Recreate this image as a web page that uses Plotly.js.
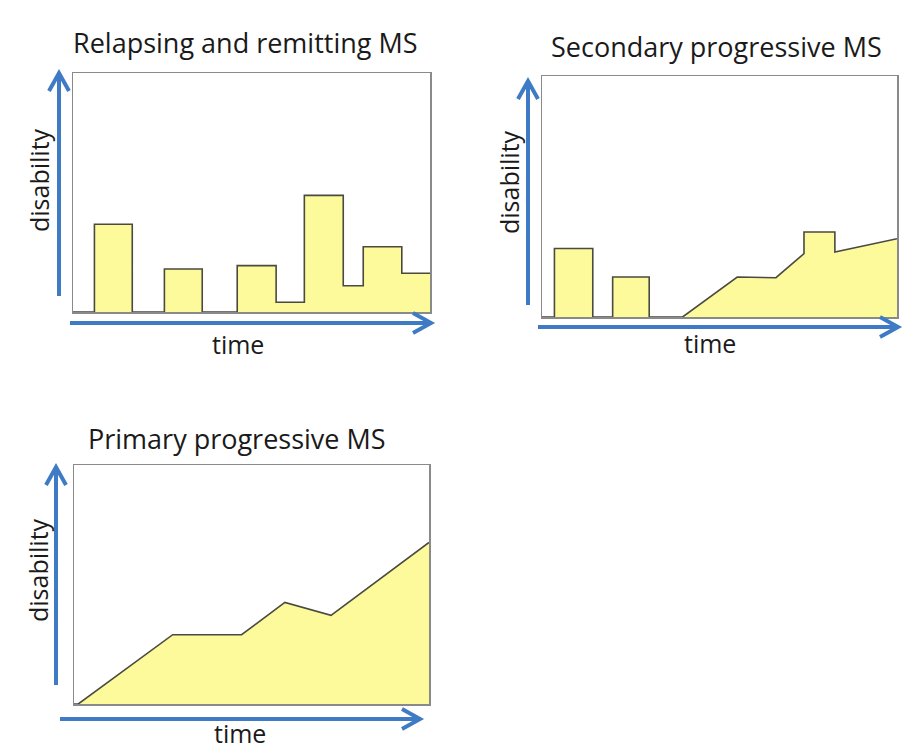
<!DOCTYPE html>
<html>
<head>
<meta charset="utf-8">
<script src="https://cdn.plot.ly/plotly-3.0.1.min.js"></script>
<style>
  html, body { margin: 0; padding: 0; background: #fff; }
  #chart { width: 924px; height: 755px; }
</style>
</head>
<body>
<div id="chart"></div>
<script>
// panel titles
const panelTitles = ["Relapsing and remitting MS", "Secondary progressive MS", "Primary progressive MS"];

// relapsing and remitting: attacks that come and go
const rrTime = [0, 6, 6, 16.6, 16.6, 25.6, 25.6, 36.2, 36.2, 46, 46, 56.9, 56.9, 64.8, 64.8, 75.7, 75.7, 81.3, 81.3, 92.1, 92.1, 100];
const rrDisability = [0, 0, 36.7, 36.7, 0, 0, 18, 18, 0, 0, 19.4, 19.4, 4.1, 4.1, 48.8, 48.8, 11, 11, 27.3, 27.3, 16.2, 16.2];

// secondary progressive: relapses first, then steady worsening
const spTime = [0, 3.5, 3.5, 14.3, 14.3, 19.9, 19.9, 30.2, 30.2, 39.6, 55, 65.9, 73.8, 73.8, 82.5, 82.5, 100];
const spDisability = [0, 0, 28.4, 28.4, 0, 0, 16.6, 16.6, 0, 0, 16.6, 16.3, 26.3, 35.3, 35.3, 27, 32.5];

// primary progressive: worsening from the start
const ppTime = [0, 1.2, 27.8, 47.2, 59.4, 72.4, 100];
const ppDisability = [0, 0, 29, 29, 42.5, 37.1, 67.6];

const W = 924, H = 755;
const px = (v) => v / W;
const py = (v) => 1 - v / H;

const FONT = "Open Sans, Noto Sans, sans-serif";
const BLUE = "#3f7bc4";
const FILL = "rgba(253, 250, 150, 0.95)";
const EDGE = "#4a4a40";

function area(x, y, n) {
  return {
    x: x,
    y: y,
    xaxis: "x" + (n > 1 ? n : ""),
    yaxis: "y" + (n > 1 ? n : ""),
    type: "scatter",
    mode: "lines",
    fill: "tozeroy",
    fillcolor: FILL,
    line: { color: EDGE, width: 1.6 },
    hoverinfo: "skip",
  };
}

function boxAxis(domain, anchor) {
  return {
    domain: domain,
    anchor: anchor,
    range: [0, 100],
    showgrid: false,
    zeroline: false,
    showticklabels: false,
    ticks: "",
    showline: true,
    mirror: true,
    linecolor: "#8a8a8a",
    linewidth: 1.5,
    fixedrange: true,
  };
}

// blue arrow with an open chevron head, in pixel coordinates
function arrow(x0, y0, x1, y1) {
  const len = Math.hypot(x1 - x0, y1 - y0);
  const dx = (x1 - x0) / len, dy = (y1 - y0) / len;
  const back = 18, side = 10;
  const ax = x1 - back * dx, ay = y1 - back * dy;
  const a1 = [ax - side * dy, ay + side * dx];
  const a2 = [ax + side * dy, ay - side * dx];
  const p = (x, y) => px(x) + "," + py(y);
  return {
    type: "path",
    xref: "paper",
    yref: "paper",
    path: "M" + p(x0, y0) + " L" + p(x1, y1) +
          " M" + p(a1[0], a1[1]) + " L" + p(x1, y1) + " L" + p(a2[0], a2[1]),
    line: { color: BLUE, width: 4 },
  };
}

function label(text, x, y, size, angle) {
  return {
    text: text,
    xref: "paper",
    yref: "paper",
    x: px(x),
    y: py(y),
    xanchor: "center",
    yanchor: "middle",
    showarrow: false,
    textangle: angle || 0,
    font: { family: FONT, size: size, color: "#1a1a1a" },
  };
}

const data = [
  area(rrTime, rrDisability, 1),
  area(spTime, spDisability, 2),
  area(ppTime, ppDisability, 3),
];

const layout = {
  width: W,
  height: H,
  margin: { l: 0, r: 0, t: 0, b: 0 },
  paper_bgcolor: "#ffffff",
  plot_bgcolor: "#ffffff",
  showlegend: false,
  xaxis: boxAxis([px(73), px(430)], "y"),
  yaxis: boxAxis([py(312), py(73)], "x"),
  xaxis2: boxAxis([px(542), px(897)], "y2"),
  yaxis2: boxAxis([py(317), py(76)], "x2"),
  xaxis3: boxAxis([px(74), px(429)], "y3"),
  yaxis3: boxAxis([py(704), py(465)], "x3"),
  shapes: [
    arrow(59, 296, 59, 73),
    arrow(70, 323, 431, 323),
    arrow(528, 305, 528, 81),
    arrow(538, 327, 898, 327),
    arrow(56, 685, 56, 467),
    arrow(60, 719, 420, 719),
  ],
  annotations: [
    label(panelTitles[0], 245, 42, 27),
    label(panelTitles[1], 716, 47, 27),
    label(panelTitles[2], 237, 438, 27),
    label("disability", 39, 180, 25, -90),
    label("disability", 509, 182, 25, -90),
    label("disability", 38, 570, 25, -90),
    label("time", 238, 344, 25),
    label("time", 710, 343, 25),
    label("time", 240, 733, 25),
  ],
};

Plotly.newPlot("chart", data, layout, { displayModeBar: false, staticPlot: true });
</script>
</body>
</html>
